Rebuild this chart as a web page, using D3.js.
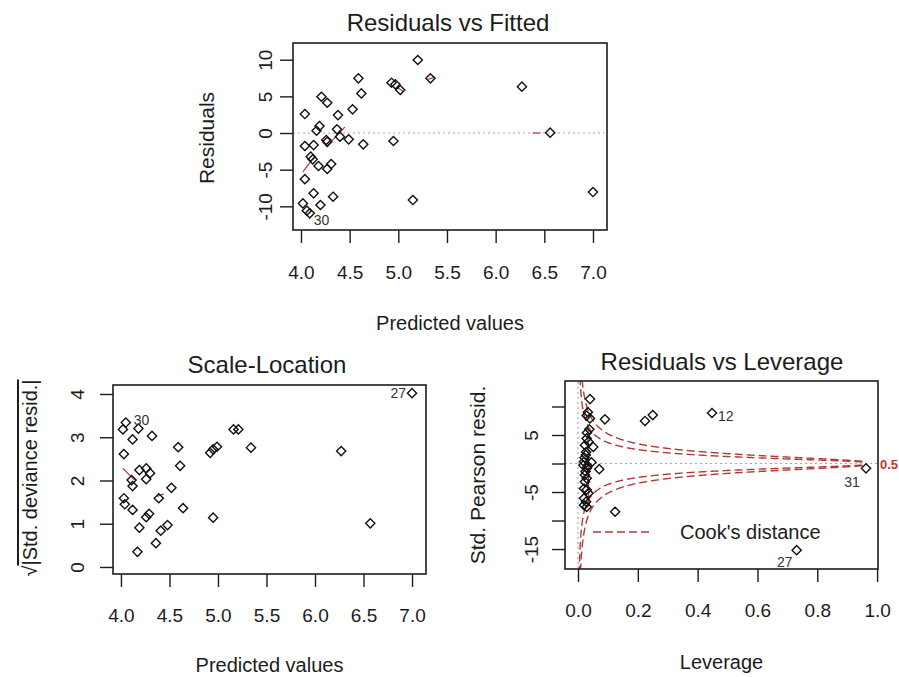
<!DOCTYPE html>
<html>
<head>
<meta charset="utf-8">
<script src="https://cdn.jsdelivr.net/npm/d3@7"></script>
<style>
  body { margin: 0; background: #fff; }
  svg { display: block; font-family: "Liberation Sans", Arial, sans-serif; }
</style>
</head>
<body>
<svg width="899" height="677"></svg>
<script>
// values

// Residuals vs Fitted
const fittedValues = [5.20, 4.59, 4.62, 4.93, 4.97, 5.02, 5.33, 4.21, 4.27, 4.04, 4.38, 4.53, 4.19, 4.16,
  4.37, 4.26, 4.27, 4.40, 4.49, 4.64, 4.95, 4.04, 4.13, 4.10, 4.12, 4.18, 4.27, 4.31, 4.04, 4.13,
  4.33, 5.15, 4.02, 4.20, 4.06, 4.09, 6.27, 6.56, 7.00];
const residuals = [9.96, 7.46, 5.40, 6.86, 6.64, 5.87, 7.46, 4.95, 4.13, 2.59, 2.45, 3.23, 0.95, 0.31,
  0.50, -0.95, -1.20, -0.50, -0.86, -1.54, -1.09, -1.77, -1.64, -3.23, -3.59, -4.50, -4.90, -4.23, -6.30, -8.23,
  -8.69, -9.14, -9.60, -9.82, -10.60, -10.95, 6.32, 0.05, -8.05];
const residLabels = [[35, '30']];
// only some pieces of the red smoother survive in the picture
const residSmooth = [
  [[4.02, -5.3], [4.14, -3.2]],
  [[4.26, -1.9], [4.45, 0.8]],
  [[4.99, 6.2], [5.05, 5.7]],
  [[5.30, 7.3], [5.37, 7.6]],
  [[6.38, 0.0], [6.46, 0.0]]
];

// Scale-Location
const slFitted = [4.05, 4.02, 4.18, 4.32, 4.12, 4.03, 4.59, 4.61, 4.92, 4.95, 4.99, 4.19, 4.26, 4.30,
  4.11, 4.12, 4.26, 4.52, 4.39, 4.03, 4.04, 4.12, 4.64, 4.95, 4.26, 4.29, 4.19, 4.41, 4.48, 4.36,
  4.17, 5.16, 5.21, 5.34, 6.27, 6.57, 7.00];
const slSqrtResid = [3.34, 3.18, 3.20, 3.03, 2.95, 2.61, 2.77, 2.34, 2.64, 2.72, 2.78, 2.24, 2.28, 2.17,
  2.01, 1.87, 2.03, 1.83, 1.59, 1.59, 1.45, 1.32, 1.36, 1.14, 1.15, 1.23, 0.91, 0.84, 0.97, 0.55,
  0.35, 3.18, 3.18, 2.76, 2.68, 1.01, 4.02];
const slLabels = [[0, '30'], [36, '27']];
const slSmooth = [
  [[4.02, 2.28], [4.14, 2.01]],
  [[4.37, 1.63], [4.44, 1.69]]
];

// Residuals vs Leverage
const leverage = [0.040, 0.033, 0.029, 0.040, 0.090, 0.224, 0.250, 0.448,
  0.023, 0.029, 0.035, 0.051, 0.027, 0.022, 0.020, 0.018, 0.030, 0.045, 0.071, 0.023, 0.029, 0.023,
  0.020, 0.029, 0.035, 0.020, 0.027, 0.020, 0.029, 0.025, 0.032, 0.038, 0.030, 0.026,
  0.124, 0.731, 0.963];
const pearsonResid = [11.3, 9.0, 8.4, 7.9, 7.75, 7.46, 8.5, 8.86,
  3.2, 4.4, 3.8, 2.9, 2.0, 1.0, 0.3, -0.3, -0.8, 0.2, -1.0, -2.0, -2.6, -3.2,
  -4.4, -4.6, -5.2, -6.1, -6.7, -7.3, -7.6, -1.4, -0.4, 6.0, 5.4, 1.5,
  -8.46, -15.2, -0.85];
const levLabels = [[7, '12'], [35, '27'], [36, '31']];
const levSmooth = [
  [[0.033, 6.5], [0.036, -7.5]]
];
const cookLevels = [0.5, 1];
const nParams = 3;

// ticks
const fittedTicks = [4, 4.5, 5, 5.5, 6, 6.5, 7];
const residTicks = [-10, -5, 0, 5, 10];
const slTicks = [0, 1, 2, 3, 4];
const leverageTicks = [0, 0.2, 0.4, 0.6, 0.8, 1];
const pearsonTicks = [-15, -10, -5, 0, 5, 10];
const pearsonTickLabels = ['-15', '', '-5', '', '5', ''];

const ink = '#1c1c1c';
const red = '#b03a3a';
const svg = d3.select('svg');

const diamond = d3.symbol().type(d3.symbolDiamond2).size(54);

/**
 * Draws one R-style panel: box, ticks, titles
 */
function drawPanel(cfg) {
  const x = d3.scaleLinear().domain(cfg.xDomain).range([cfg.left, cfg.right]);
  const y = d3.scaleLinear().domain(cfg.yDomain).range([cfg.bottom, cfg.top]);

  svg.append('clipPath').attr('id', 'clip-' + cfg.id)
    .append('rect')
    .attr('x', cfg.left).attr('y', cfg.top)
    .attr('width', cfg.right - cfg.left).attr('height', cfg.bottom - cfg.top);

  const g = svg.append('g');
  const plot = g.append('g').attr('clip-path', `url(#clip-${cfg.id})`);

  // x axis
  const xAxis = g.append('g')
    .attr('transform', `translate(0,${cfg.bottom})`)
    .call(d3.axisBottom(x).tickValues(cfg.xTicks).tickSize(13).tickFormat(d3.format('.1f')));
  xAxis.select('.domain').remove();
  xAxis.selectAll('line').attr('stroke', ink).attr('stroke-width', 1.4);
  xAxis.selectAll('text')
    .attr('y', cfg.xLabelOffset).attr('dy', '0.35em')
    .attr('fill', ink).style('font-size', '19px').style('font-family', 'inherit');

  // y axis, labels turned like R's las=0
  const yAxis = g.append('g')
    .attr('transform', `translate(${cfg.left},0)`)
    .call(d3.axisLeft(y).tickValues(cfg.yTicks).tickSize(13)
      .tickFormat((d, i) => cfg.yTickLabels ? cfg.yTickLabels[i] : d));
  yAxis.select('.domain').remove();
  yAxis.selectAll('line').attr('stroke', ink).attr('stroke-width', 1.4);
  yAxis.selectAll('text')
    .attr('x', null).attr('dy', '0.35em')
    .attr('text-anchor', 'middle')
    .attr('transform', `translate(${-cfg.yLabelOffset},0) rotate(-90)`)
    .attr('fill', ink).style('font-size', '19px').style('font-family', 'inherit');

  // box
  g.append('rect')
    .attr('x', cfg.left).attr('y', cfg.top)
    .attr('width', cfg.right - cfg.left).attr('height', cfg.bottom - cfg.top)
    .attr('fill', 'none').attr('stroke', ink).attr('stroke-width', 1.6);

  // title and axis titles
  g.append('text')
    .attr('x', cfg.titleX).attr('y', cfg.titleY).attr('dy', '0.35em')
    .attr('text-anchor', 'middle').attr('fill', ink)
    .style('font-size', '24px').text(cfg.title);
  g.append('text')
    .attr('x', (cfg.left + cfg.right) / 2).attr('y', cfg.xTitleY).attr('dy', '0.35em')
    .attr('text-anchor', 'middle').attr('fill', ink)
    .style('font-size', '20px').text(cfg.xTitle);

  return { x, y, g, plot };
}

function drawPoints(panel, xs, ys) {
  panel.plot.selectAll('path.pt')
    .data(xs)
    .enter()
    .append('path')
    .attr('class', 'pt')
    .attr('d', diamond)
    .attr('transform', (d, i) => `translate(${panel.x(d)},${panel.y(ys[i])})`)
    .attr('fill', 'none')
    .attr('stroke', '#111')
    .attr('stroke-width', 1.4);
}

function drawSegments(panel, segs) {
  const line = d3.line().x(d => panel.x(d[0])).y(d => panel.y(d[1]));
  panel.plot.selectAll('path.smooth')
    .data(segs)
    .enter()
    .append('path')
    .attr('class', 'smooth')
    .attr('d', line)
    .attr('fill', 'none')
    .attr('stroke', red)
    .attr('stroke-width', 1.2);
}

function drawPointLabels(panel, labels, xs, ys, place) {
  labels.forEach(([i, txt], k) => {
    const [dx, dy, anchor] = place[k];
    panel.g.append('text')
      .attr('x', panel.x(xs[i]) + dx)
      .attr('y', panel.y(ys[i]) + dy)
      .attr('dy', '0.35em')
      .attr('text-anchor', anchor)
      .attr('fill', '#333')
      .style('font-size', '14px')
      .text(txt);
  });
}

function zeroLine(panel, horizontal) {
  const [x0, x1] = panel.x.domain();
  const [y0, y1] = panel.y.domain();
  panel.plot.append('line')
    .attr('x1', horizontal ? panel.x(x0) : panel.x(0))
    .attr('x2', horizontal ? panel.x(x1) : panel.x(0))
    .attr('y1', horizontal ? panel.y(0) : panel.y(y0))
    .attr('y2', horizontal ? panel.y(0) : panel.y(y1))
    .attr('stroke', '#a8a8a8')
    .attr('stroke-width', 1.1)
    .attr('stroke-dasharray', '2,3');
}

function yTitle(panel, x, y, size) {
  return panel.g.append('text')
    .attr('transform', `translate(${x},${y}) rotate(-90)`)
    .attr('dy', '0.35em').attr('text-anchor', 'middle').attr('fill', ink)
    .style('font-size', size + 'px');
}

// ---- Residuals vs Fitted ----
const pA = drawPanel({
  id: 'a', left: 293, right: 607, top: 43, bottom: 230,
  xDomain: [3.918, 7.144], yDomain: [-13.23, 12.28],
  xTicks: fittedTicks, yTicks: residTicks,
  xLabelOffset: 42, yLabelOffset: 28,
  title: 'Residuals vs Fitted', titleX: 448, titleY: 23,
  xTitle: 'Predicted values', xTitleY: 323
});
zeroLine(pA, true);
drawSegments(pA, residSmooth);
drawPoints(pA, fittedValues, residuals);
drawPointLabels(pA, residLabels, fittedValues, residuals, [[4, 7, 'start']]);
yTitle(pA, 207, 138, 21).text('Residuals');

// ---- Scale-Location ----
const pB = drawPanel({
  id: 'b', left: 113, right: 426, top: 385, bottom: 574,
  xDomain: [3.918, 7.144], yDomain: [-0.162, 4.208],
  xTicks: fittedTicks, yTicks: slTicks,
  xLabelOffset: 41, yLabelOffset: 36,
  title: 'Scale-Location', titleX: 267, titleY: 365,
  xTitle: 'Predicted values', xTitleY: 665
});
drawSegments(pB, slSmooth);
drawPoints(pB, slFitted, slSqrtResid);
drawPointLabels(pB, slLabels, slFitted, slSqrtResid, [[8, -2, 'start'], [-6, 0, 'end']]);
const slTitle = yTitle(pB, 30, 478, 20);
slTitle.append('tspan').text('\u221A');
slTitle.append('tspan').style('text-decoration', 'overline').text('|Std. deviance resid.|');

// ---- Residuals vs Leverage ----
const pC = drawPanel({
  id: 'c', left: 565, right: 878, top: 381, bottom: 569,
  xDomain: [-0.0435, 1.003], yDomain: [-18.5, 14.47],
  xTicks: leverageTicks, yTicks: pearsonTicks, yTickLabels: pearsonTickLabels,
  xLabelOffset: 41, yLabelOffset: 34,
  title: 'Residuals vs Leverage', titleX: 722, titleY: 362,
  xTitle: 'Leverage', xTitleY: 662
});
zeroLine(pC, true);
zeroLine(pC, false);

// Cook's distance contours
const hh = d3.range(0.004, 0.966, 0.002);
const cookLine = d3.line().x(d => pC.x(d[0])).y(d => pC.y(d[1]));
cookLevels.forEach(level => {
  [1, -1].forEach(sign => {
    pC.plot.append('path')
      .attr('d', cookLine(hh.map(h => [h, sign * Math.sqrt(level * nParams * (1 - h) / h)])))
      .attr('fill', 'none')
      .attr('stroke', red)
      .attr('stroke-width', 1.4)
      .attr('stroke-dasharray', '8,4');
  });
});
drawSegments(pC, levSmooth);
drawPoints(pC, leverage, pearsonResid);
drawPointLabels(pC, levLabels, leverage, pearsonResid,
  [[6, 3, 'start'], [-4, 12, 'end'], [-14, 14, 'middle']]);

// level label in the right margin
pC.g.append('text')
  .attr('x', 880).attr('y', pC.y(-0.2)).attr('dy', '0.35em')
  .attr('fill', '#d03030').style('font-size', '13px').style('font-weight', 'bold')
  .text(cookLevels[0]);

// legend
pC.g.append('line')
  .attr('x1', 593).attr('x2', 651).attr('y1', 532).attr('y2', 532)
  .attr('stroke', red).attr('stroke-width', 1.4).attr('stroke-dasharray', '8,4');
pC.g.append('text')
  .attr('x', 680).attr('y', 532).attr('dy', '0.35em').attr('fill', ink)
  .style('font-size', '20px').text("Cook's distance");

yTitle(pC, 478, 475, 21).text('Std. Pearson resid.');
</script>
</body>
</html>
